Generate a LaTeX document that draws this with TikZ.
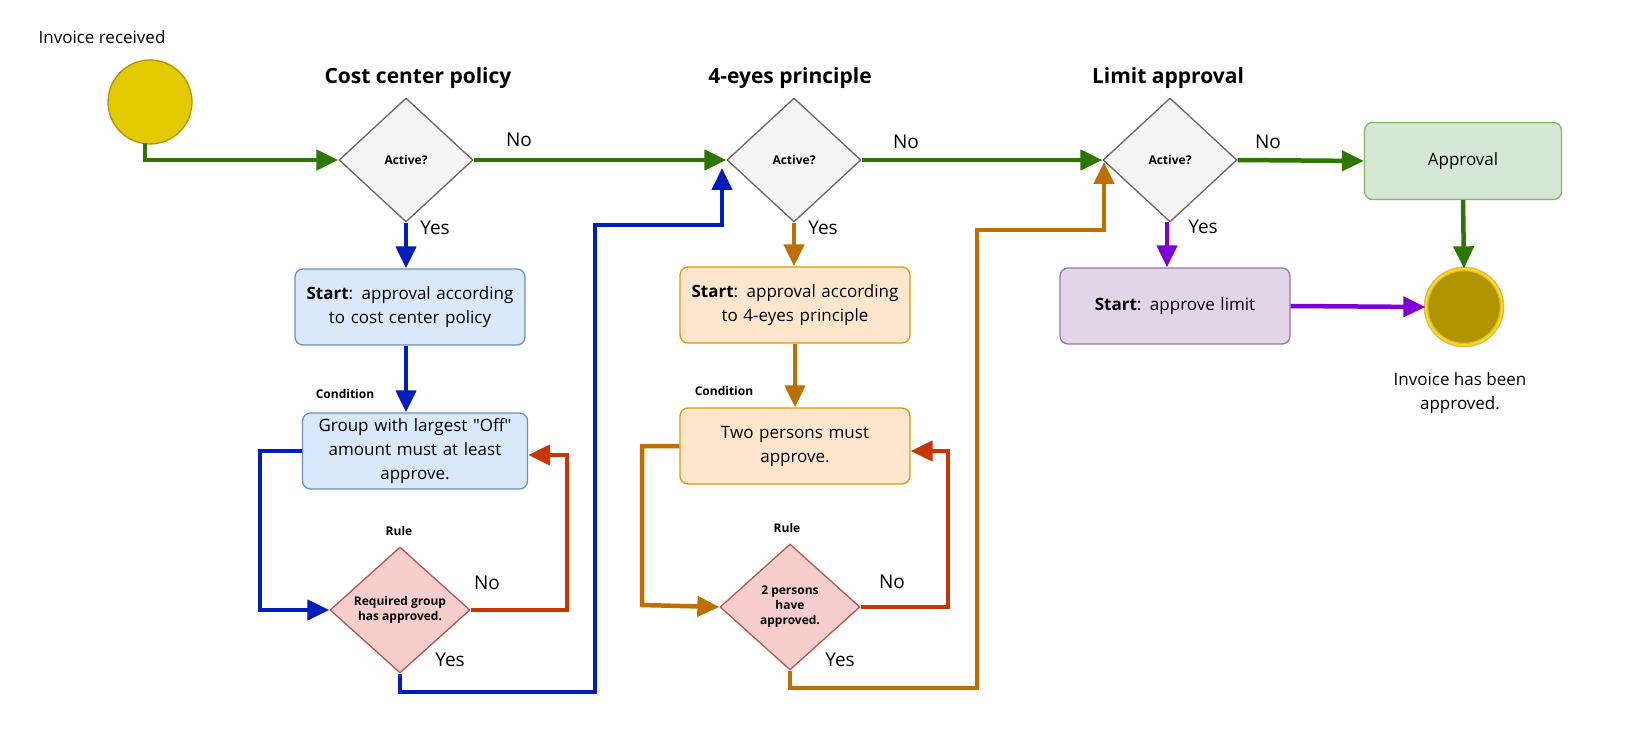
\documentclass[tikz,border=0pt]{standalone}
\usepackage{fontspec}
\setmainfont[Ligatures=NoCommon]{Open Sans}
\usetikzlibrary{shapes.geometric,arrows.meta}
\definecolor{gA}{HTML}{2D7600}\definecolor{bA}{HTML}{001DBC}\definecolor{rA}{HTML}{C73500}
\definecolor{oA}{HTML}{BD7000}\definecolor{pA}{HTML}{7F00D6}
\definecolor{gS}{HTML}{82B366}\definecolor{gF}{HTML}{D5E8D4}
\definecolor{bS}{HTML}{6C8EBF}\definecolor{bF}{HTML}{DAE8FC}
\definecolor{oS}{HTML}{D79B00}\definecolor{oF}{HTML}{FFE6CC}
\definecolor{rS}{HTML}{B85450}\definecolor{rF}{HTML}{F8CECC}
\definecolor{pS}{HTML}{9673A6}\definecolor{pF}{HTML}{E1D5E7}
\definecolor{yF}{HTML}{E3C900}\definecolor{yS}{HTML}{B09500}
\definecolor{eF}{HTML}{B09500}\definecolor{eS}{HTML}{D6B656}
\begin{document}
\begin{tikzpicture}[x=1pt,y=-1pt,
  dia/.style={diamond,draw=#1,line width=1.3pt,inner sep=0pt,minimum width=134pt,minimum height=124pt,align=center,font=\fontsize{12}{15}\selectfont\bfseries},
  box/.style={draw=#1,line width=1.3pt,rounded corners=8pt,minimum width=230pt,minimum height=76pt,align=center,font=\fontsize{17}{24}\selectfont,text width=220pt},
  lbl/.style={font=\fontsize{19}{22}\selectfont},
  ttl/.style={font=\fontsize{21}{24}\selectfont\bfseries},
  sm/.style={font=\fontsize{12}{14}\selectfont\bfseries},
  ar/.style={draw=#1,line width=4.5pt,-{Triangle[length=22pt,width=20pt]}},
]
\useasboundingbox (0,0) rectangle (1637,738);

\node[circle,draw=yS,fill=yF,line width=1.3pt,minimum size=84pt] (st) at (150,102) {};
\node[font=\fontsize{17}{20}\selectfont] at (102,37) {Invoice received};

\node[dia=black!60,fill=black!4] (d1) at (406,160) {Active?};
\node[dia=black!60,fill=black!4] (d2) at (794,160) {Active?};
\node[dia=black!60,fill=black!4] (d3) at (1170,160) {Active?};
\node[ttl] at (418,78) {Cost center policy};
\node[ttl] at (790,78) {4-eyes principle};
\node[ttl] at (1168,78) {Limit approval};

\node[box=gS,fill=gF,minimum width=197pt,text width=190pt,minimum height=77pt] (ap) at (1463,161) {Approval};
\node[circle,draw=eS,fill=eF,line width=1.3pt,minimum size=76pt,double=yellow!80!orange,double distance=2pt] (en) at (1464,307) {};
\node[font=\fontsize{17}{24}\selectfont,align=center] at (1460,393) {Invoice has been\\approved.};

\node[box=bS,fill=bF] (b1) at (410,307) {\textbf{Start}: approval according\\to cost center policy};
\node[box=bS,fill=bF,minimum width=225pt,text width=215pt] (b2) at (415,451) {Group with largest \textquotedbl Off\textquotedbl\\amount must at least\\approve.};
\node[sm] at (345,394) {Condition};
\node[sm] at (399,531) {Rule};
\node[dia=rS,fill=rF,minimum width=140pt,minimum height=126pt] (r1) at (400,610) {Required group\\has approved.};

\node[box=oS,fill=oF] (o1) at (795,305) {\textbf{Start}: approval according\\to 4-eyes principle};
\node[box=oS,fill=oF] (o2) at (795,446) {Two persons must\\approve.};
\node[sm] at (724,391) {Condition};
\node[sm] at (787,528) {Rule};
\node[dia=rS,fill=rF,minimum width=140pt,minimum height=126pt] (r2) at (790,607) {2 persons\\have\\approved.};

\node[box=pS,fill=pF] (p1) at (1175,306) {\textbf{Start}: approve limit};

% green
\coordinate (s0) at (145,143);
\draw[ar=gA] (s0) |- (d1.west);
\draw[ar=gA] (d1.east) -- (d2.west);
\draw[ar=gA] (d2.east) -- (d3.west);
\draw[ar=gA] (d3.east) -- (ap.west);
\draw[ar=gA] (ap.south) -- (en.north);
\node[lbl] at (519,140) {No};
\node[lbl] at (906,142) {No};
\node[lbl] at (1268,142) {No};
% blue
\draw[ar=bA] (d1.south) -- (d1.south|-b1.north);
\draw[ar=bA] (b1.south-|d1.south) -- (d1.south|-b2.north);
\draw[ar=bA] (b2.west) -| (260,610) -- (r1.west);
\draw[ar=rA] (r1.east) -| (567,455) -- (b2.east|-0,455);
\coordinate (k1) at (722,168);
\draw[ar=bA] (r1.south) -- (400,692) -| (595,225) -| (k1);
\node[lbl] at (435,228) {Yes};
\node[lbl] at (487,583) {No};
\node[lbl] at (450,660) {Yes};
% orange
\draw[ar=oA] (d2.south) -- (o1.north-|d2.south);
\draw[ar=oA] (o1.south) -- (o2.north);
\draw[ar=oA] (o2.west) -| (642,605) -- (r2.west);
\draw[ar=rA] (r2.east) -| (948,451) -- (o2.east|-0,451);
\coordinate (k2) at (1104,162);
\draw[ar=oA] (r2.south) -- (790,688) -| (977,230) -| (k2);
\node[lbl] at (823,228) {Yes};
\node[lbl] at (892,582) {No};
\node[lbl] at (840,660) {Yes};
% purple
\coordinate (q0) at (1167,222);
\draw[ar=pA] (q0) -- (q0|-p1.north);
\draw[ar=pA] (p1.east) -- (en.west);
\node[lbl] at (1203,227) {Yes};
\end{tikzpicture}
\end{document}
